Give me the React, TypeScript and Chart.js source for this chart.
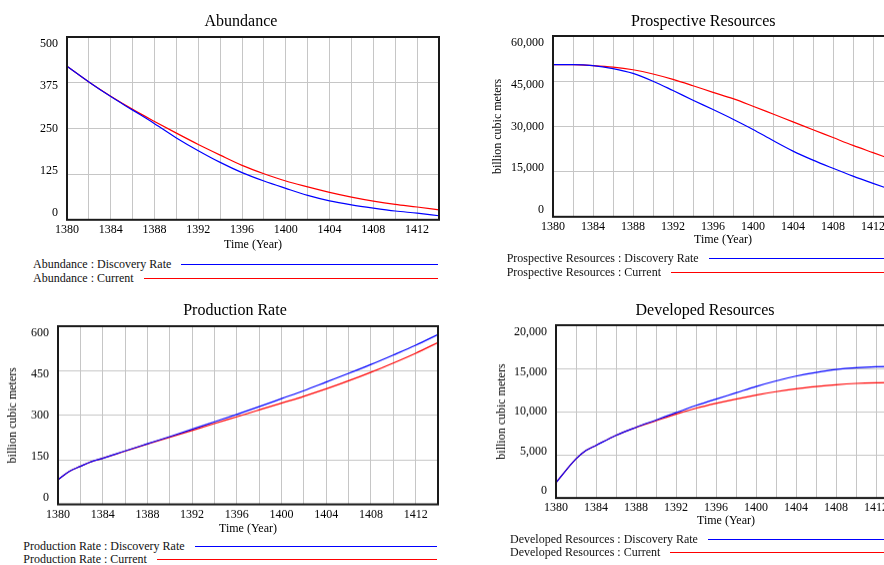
import React, { useEffect, useRef } from "react";
import { Chart, registerables } from "chart.js";

Chart.register(...registerables);

const FONT = "'Liberation Serif', 'Times New Roman', Times, serif";
const BLUE = "#0000ff";
const RED = "#ff0000";
const GRID = "#c6c6c6";

// ---- shared time axis ----
const gridYears = [1380, 1382, 1384, 1386, 1388, 1390, 1392, 1394, 1396, 1398, 1400, 1402, 1404, 1406, 1408, 1410, 1412, 1414];
const labelYears = [1380, 1384, 1388, 1392, 1396, 1400, 1404, 1408, 1412];

// ---- Abundance ----
const abundanceYears = [1380, 1382, 1384, 1386, 1388, 1390, 1392, 1394, 1396, 1398, 1400, 1402, 1404, 1406, 1408, 1410, 1412, 1414];
const abundanceDiscovery = [420, 377, 337, 300, 263, 224, 189, 157, 129, 106, 86, 67, 52, 41, 32, 24, 18, 11];
const abundanceCurrent = [420, 377, 338, 302, 269, 237, 206, 177, 149, 126, 106, 90, 75, 62, 51, 42, 35, 27];
const abundanceTicks = [0, 125, 250, 375, 500];

// ---- Prospective Resources ----
const prospectiveYears = [1380, 1382, 1384, 1386, 1388, 1390, 1392, 1394, 1396, 1398, 1400, 1402, 1404, 1406, 1408, 1410, 1412, 1414];
const prospectiveDiscovery = [50500, 50500, 50200, 49200, 47600, 45000, 41900, 38700, 35600, 32400, 29000, 25300, 21800, 18800, 16100, 13500, 11100, 8800];
const prospectiveCurrent = [50500, 50500, 50200, 49700, 48800, 47400, 45600, 43500, 41300, 39200, 36700, 34100, 31500, 28900, 26300, 23700, 21300, 18900];
const prospectiveTicks = [0, 15000, 30000, 45000, 60000];

// ---- Production Rate ----
const productionYears = [1380, 1381, 1382, 1383, 1384, 1386, 1388, 1390, 1392, 1394, 1396, 1398, 1400, 1402, 1404, 1406, 1408, 1410, 1412, 1414];
const productionDiscovery = [83, 111, 128, 144, 155, 180, 204, 228, 253, 278, 303, 329, 356, 383, 412, 441, 471, 503, 536, 572];
const productionCurrent = [83, 111, 128, 144, 155, 179, 203, 226, 249, 272, 295, 318, 341, 364, 389, 416, 445, 476, 509, 545];
const productionTicks = [0, 150, 300, 450, 600];

// ---- Developed Resources ----
const developedYears = [1380, 1382, 1383, 1384, 1386, 1388, 1390, 1392, 1394, 1396, 1398, 1400, 1402, 1404, 1406, 1408, 1410, 1412, 1414];
const developedDiscovery = [1780, 4530, 5500, 6090, 7250, 8180, 9020, 9880, 10700, 11450, 12170, 12900, 13550, 14100, 14530, 14870, 15080, 15200, 15230];
const developedCurrent = [1780, 4530, 5500, 6090, 7250, 8160, 8930, 9700, 10380, 10950, 11450, 11900, 12300, 12640, 12900, 13110, 13260, 13340, 13370];
const developedTicks = [0, 5000, 10000, 15000, 20000];

type Area = { l: number; t: number; r: number; b: number };

type PanelProps = {
  name: string;
  ox: number;
  oy: number;
  area: Area;
  xTitleY: number;
  yTitleX?: number;
  yTitle?: string;
  years: number[];
  discovery: number[];
  current: number[];
  yTicks: number[];
  titleX: number;
  titleY: number;
  legendX: number;
  legendY1: number;
  legendY2: number;
  legendRight: number;
};

const font12 = { family: FONT, size: 12, lineHeight: 1.2 };

const frameBorder = {
  id: "frameBorder",
  afterDatasetsDraw(chart: any) {
    const { ctx, chartArea } = chart;
    ctx.save();
    ctx.strokeStyle = "#1a1a1a";
    ctx.lineWidth = 2;
    ctx.strokeRect(chartArea.left, chartArea.top, chartArea.right - chartArea.left, chartArea.bottom - chartArea.top);
    ctx.restore();
  },
};

function fmt(v: number) {
  return Math.round(v).toLocaleString("en-US");
}

function Panel(p: PanelProps) {
  const ref = useRef<HTMLCanvasElement | null>(null);
  const xAxisH = p.xTitleY - p.area.b + 7.2;
  const cw = p.area.r - p.ox + 20;
  const ch = p.area.b - p.oy + xAxisH;

  useEffect(() => {
    if (!ref.current) return;
    const tmin = p.yTicks[0];
    const tmax = p.yTicks[p.yTicks.length - 1];
    const H = p.area.b - p.area.t;
    const inset = 7;
    const k = (tmax - tmin) / (H - 2 * inset);
    const chart = new Chart(ref.current, {
      type: "line",
      data: {
        datasets: [
          {
            label: p.name + " : Discovery Rate",
            data: p.years.map((x, i) => ({ x, y: p.discovery[i] })),
            borderColor: BLUE,
            borderWidth: 1.2,
            pointRadius: 0,
            cubicInterpolationMode: "monotone",
            order: 1,
          },
          {
            label: p.name + " : Current",
            data: p.years.map((x, i) => ({ x, y: p.current[i] })),
            borderColor: RED,
            borderWidth: 1.2,
            pointRadius: 0,
            cubicInterpolationMode: "monotone",
            order: 2,
          },
        ],
      },
      options: {
        animation: false,
        responsive: false,
        events: [],
        layout: {
          padding: { top: p.area.t - p.oy, left: 0, right: cw - (p.area.r - p.ox), bottom: 0 },
        },
        plugins: {
          legend: { display: false },
          tooltip: { enabled: false },
          title: { display: false },
        },
        scales: {
          x: {
            type: "linear",
            min: 1380,
            max: 1414,
            afterBuildTicks: (s: any) => {
              s.ticks = gridYears.map((v) => ({ value: v }));
            },
            afterFit: (s: any) => {
              s.height = xAxisH;
            },
            ticks: {
              autoSkip: false,
              maxRotation: 0,
              minRotation: 0,
              padding: 3,
              font: font12,
              color: "#000",
              callback: (v: any) => (labelYears.includes(Number(v)) ? String(v) : ""),
            },
            grid: { color: GRID, lineWidth: 1, drawTicks: false },
            border: { display: false },
            title: {
              display: true,
              text: "Time (Year)",
              font: font12,
              color: "#000",
              padding: { top: 0, bottom: 0 },
            },
          },
          y: {
            type: "linear",
            position: "left",
            min: tmin,
            max: tmax,
            afterBuildTicks: (s: any) => {
              s.ticks = p.yTicks.map((v) => ({ value: v }));
            },
            afterFit: (s: any) => {
              s.width = 0;
            },
            ticks: { display: false },
            grid: { color: GRID, lineWidth: 1, drawTicks: false },
            border: { display: false },
          },
          yl: {
            type: "linear",
            position: "left",
            min: tmin - inset * k,
            max: tmax + inset * k,
            afterBuildTicks: (s: any) => {
              s.ticks = p.yTicks.map((v) => ({ value: v }));
            },
            afterFit: (s: any) => {
              s.width = p.area.l - p.ox;
            },
            ticks: {
              padding: 9,
              font: font12,
              color: "#000",
              callback: (v: any) => fmt(Number(v)),
            },
            grid: { display: false, drawTicks: false },
            border: { display: false },
            title: {
              display: !!p.yTitle,
              text: p.yTitle || "",
              font: font12,
              color: "#000",
              padding: { top: (p.yTitleX || 0) - p.ox - 7.2, bottom: 0 },
            },
          },
        },
      } as any,
      plugins: [frameBorder],
    });
    return () => chart.destroy();
  }, []);

  const legendRow = (text: string, y: number, color: string) => (
    <div
      style={{
        position: "absolute",
        left: p.legendX,
        top: y - 8,
        width: p.legendRight - p.legendX,
        height: 16,
        display: "flex",
        alignItems: "center",
        fontFamily: FONT,
        fontSize: 12,
        color: "#111",
        whiteSpace: "nowrap",
      }}
    >
      <span>{text}</span>
      <div style={{ flex: 1, marginLeft: 10, borderTop: `1px solid ${color}`, height: 0 }} />
    </div>
  );

  return (
    <>
      <canvas
        ref={ref}
        width={cw}
        height={ch}
        style={{ position: "absolute", left: p.ox, top: p.oy, width: cw, height: ch }}
      />
      <div
        style={{
          position: "absolute",
          left: p.titleX - 200,
          top: p.titleY - 10,
          width: 400,
          height: 20,
          lineHeight: "20px",
          textAlign: "center",
          fontFamily: FONT,
          fontSize: 16,
          color: "#000",
          whiteSpace: "nowrap",
        }}
      >
        {p.name}
      </div>
      {legendRow(p.name + " : Discovery Rate", p.legendY1, BLUE)}
      {legendRow(p.name + " : Current", p.legendY2, RED)}
    </>
  );
}

export default function App() {
  return (
    <div
      style={{
        position: "fixed",
        left: 0,
        top: 0,
        width: 884,
        height: 565,
        overflow: "hidden",
        background: "#fff",
      }}
    >
      <Panel
        name="Abundance"
        ox={0}
        oy={0}
        area={{ l: 67, t: 37, r: 439, b: 220 }}
        xTitleY={245}
        years={abundanceYears}
        discovery={abundanceDiscovery}
        current={abundanceCurrent}
        yTicks={abundanceTicks}
        titleX={241}
        titleY={20.7}
        legendX={33}
        legendY1={264}
        legendY2={278}
        legendRight={438}
      />
      <Panel
        name="Prospective Resources"
        ox={440}
        oy={0}
        area={{ l: 553, t: 36, r: 893, b: 217 }}
        xTitleY={240}
        yTitleX={498.3}
        yTitle="billion cubic meters"
        years={prospectiveYears}
        discovery={prospectiveDiscovery}
        current={prospectiveCurrent}
        yTicks={prospectiveTicks}
        titleX={703.3}
        titleY={20.7}
        legendX={506.7}
        legendY1={258.7}
        legendY2={272.7}
        legendRight={893}
      />
      <Panel
        name="Production Rate"
        ox={0}
        oy={290}
        area={{ l: 58, t: 326, r: 438, b: 504 }}
        xTitleY={528.3}
        yTitleX={13.3}
        yTitle="billion cubic meters"
        years={productionYears}
        discovery={productionDiscovery}
        current={productionCurrent}
        yTicks={productionTicks}
        titleX={235}
        titleY={310}
        legendX={23.3}
        legendY1={546}
        legendY2={559.3}
        legendRight={436.7}
      />
      <Panel
        name="Developed Resources"
        ox={440}
        oy={290}
        area={{ l: 556, t: 325, r: 896, b: 498 }}
        xTitleY={520.7}
        yTitleX={501.7}
        yTitle="billion cubic meters"
        years={developedYears}
        discovery={developedDiscovery}
        current={developedCurrent}
        yTicks={developedTicks}
        titleX={705}
        titleY={310}
        legendX={510}
        legendY1={539.3}
        legendY2={552.7}
        legendRight={896}
      />
    </div>
  );
}
